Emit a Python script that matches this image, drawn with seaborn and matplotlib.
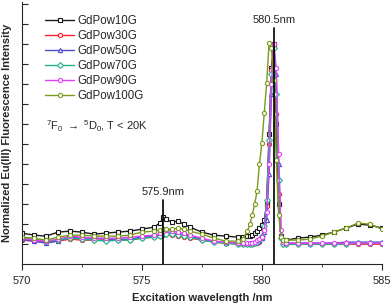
import pandas as pd
import seaborn as sns
import matplotlib.pyplot as plt
import numpy as np

# excitation wavelengths (nm), shared by all samples
wavelength = [570, 570.5, 571, 571.5, 572, 572.5, 573, 573.5, 574, 574.5, 575, 575.5,
              575.75, 575.9, 576, 576.25, 576.5, 576.75, 577, 577.5, 578, 578.5, 579,
              579.2, 579.4, 579.5, 579.6, 579.7, 579.8, 579.9, 580.0, 580.1, 580.2,
              580.3, 580.4, 580.5, 580.6, 580.7, 580.8, 580.9, 581.0,
              581.5, 582, 582.5, 583, 583.5, 584, 584.5, 585]

gd10 = [0.155, 0.145, 0.14, 0.16, 0.165, 0.16, 0.15, 0.155, 0.16, 0.165, 0.175, 0.185,
        0.205, 0.235, 0.225, 0.21, 0.215, 0.2, 0.185, 0.16, 0.145, 0.14, 0.135,
        0.135, 0.14, 0.14, 0.145, 0.155, 0.165, 0.18, 0.195, 0.22, 0.3,
        0.65, 0.98, 1.1, 0.7, 0.3, 0.14, 0.11, 0.12,
        0.13, 0.135, 0.145, 0.16, 0.18, 0.2, 0.195, 0.18]
gd30 = [0.12, 0.115, 0.11, 0.115, 0.125, 0.12, 0.12, 0.12, 0.12, 0.12, 0.13, 0.135,
        0.14, 0.145, 0.15, 0.145, 0.14, 0.135, 0.13, 0.12, 0.11, 0.105, 0.1,
        0.1, 0.1, 0.1, 0.1, 0.105, 0.105, 0.11, 0.13, 0.17, 0.29,
        0.6, 0.97, 1.1, 0.75, 0.35, 0.13, 0.1, 0.1,
        0.1, 0.1, 0.1, 0.1, 0.1, 0.1, 0.1, 0.1]
gd50 = [0.125, 0.115, 0.105, 0.115, 0.135, 0.13, 0.13, 0.125, 0.125, 0.125, 0.135, 0.14,
        0.145, 0.15, 0.155, 0.155, 0.15, 0.145, 0.14, 0.125, 0.115, 0.105, 0.105,
        0.105, 0.105, 0.105, 0.105, 0.105, 0.11, 0.115, 0.13, 0.16, 0.22,
        0.45, 0.85, 1.09, 0.95, 0.5, 0.15, 0.105, 0.105,
        0.105, 0.105, 0.105, 0.105, 0.11, 0.11, 0.11, 0.11]
gd70 = [0.13, 0.125, 0.115, 0.12, 0.13, 0.125, 0.12, 0.115, 0.12, 0.12, 0.13, 0.135,
        0.14, 0.15, 0.15, 0.15, 0.145, 0.14, 0.135, 0.12, 0.11, 0.105, 0.1,
        0.1, 0.1, 0.1, 0.1, 0.105, 0.11, 0.12, 0.14, 0.19, 0.32,
        0.62, 0.95, 1.08, 0.85, 0.42, 0.13, 0.1, 0.1,
        0.1, 0.1, 0.1, 0.1, 0.1, 0.105, 0.105, 0.105]
gd90 = [0.13, 0.12, 0.115, 0.125, 0.14, 0.135, 0.13, 0.13, 0.13, 0.135, 0.14, 0.145,
        0.155, 0.165, 0.17, 0.165, 0.16, 0.155, 0.145, 0.13, 0.115, 0.11, 0.105,
        0.105, 0.105, 0.105, 0.105, 0.11, 0.12, 0.125, 0.135, 0.17, 0.26,
        0.5, 0.9, 1.1, 0.98, 0.55, 0.17, 0.11, 0.105,
        0.105, 0.105, 0.105, 0.105, 0.105, 0.105, 0.105, 0.105]
gd100 = [0.135, 0.13, 0.12, 0.135, 0.145, 0.145, 0.14, 0.14, 0.14, 0.145, 0.16, 0.165,
         0.17, 0.175, 0.175, 0.175, 0.18, 0.175, 0.165, 0.15, 0.13, 0.115, 0.115,
         0.125, 0.165, 0.2, 0.245, 0.3, 0.365, 0.5, 0.605, 0.755, 0.905,
         1.105, 1.08, 0.92, 0.52, 0.245, 0.135, 0.12, 0.12,
         0.12, 0.125, 0.14, 0.16, 0.18, 0.205, 0.2, 0.175]

labels = ['GdPow10G', 'GdPow30G', 'GdPow50G', 'GdPow70G', 'GdPow90G', 'GdPow100G']
series = [gd10, gd30, gd50, gd70, gd90, gd100]
colors = ['#1a1a1a', '#ff1a2a', '#4a4ad0', '#1fb28a', '#e040f8', '#7a9a1a']
markers = ['s', 'o', '^', 'D', 'o', 'o']
peaks = [575.9, 580.5]
peak_tops = [0.32, 1.18]

sns.set_style('ticks')
plt.rcParams['font.family'] = ['Liberation Sans', 'DejaVu Sans']
plt.rcParams['mathtext.fontset'] = 'custom'
plt.rcParams['mathtext.rm'] = 'Liberation Sans'
plt.rcParams['mathtext.it'] = 'Liberation Sans'

fig = plt.figure(figsize=(3.92, 3.05), dpi=100)
ax = fig.add_axes([0.056, 0.134, 0.918, 0.859])

for y, lab, c, m in zip(series, labels, colors, markers):
    df = pd.DataFrame({'wl': wavelength, 'val': y})
    sns.lineplot(data=df, x='wl', y='val', ax=ax, color=c, label=lab,
                 marker=m, markersize=3, markerfacecolor='white',
                 markeredgecolor=c, markeredgewidth=0.8, linewidth=1.0)

# peak markers
for p, top in zip(peaks, peak_tops):
    ax.plot([p, p], [0, top], color='black', lw=1.2, zorder=10)
    ax.text(p, top + 0.015, '{}nm'.format(p), ha='center', va='bottom', fontsize=8)

ax.text(571.0, 0.69, r'$^7$F$_0$ $\rightarrow$ $^5$D$_0$, T < 20K', fontsize=8,
        va='center', ha='left')

ax.set_xlim(570, 585)
ax.set_ylim(0, 1.31)
ax.set_xticks([570, 575, 580, 585])
ax.set_xticks([572.5, 577.5, 582.5], minor=True)
ax.set_yticks(np.arange(0.1, 1.31, 0.1))
ax.set_yticklabels([])
ax.tick_params(axis='x', direction='out', length=4, labelsize=8, pad=4.5)
ax.tick_params(axis='x', which='minor', direction='out', length=2.5)
ax.tick_params(axis='y', direction='in', length=4)
ax.spines['right'].set_visible(False)
ax.spines['top'].set_visible(False)
ax.set_xlabel('Excitation wavelength /nm', fontsize=8, fontweight='bold', labelpad=5)
ax.set_ylabel('Normalized Eu(III) Fluorescence Intensity', fontsize=8,
              fontweight='bold', labelpad=4)

ax.legend(loc='upper left', bbox_to_anchor=(0.052, 0.968), frameon=False,
          fontsize=8.3, handlelength=2.5, handletextpad=0.3, labelspacing=0.26,
          borderaxespad=0)

plt.savefig('out.png', dpi=100)
